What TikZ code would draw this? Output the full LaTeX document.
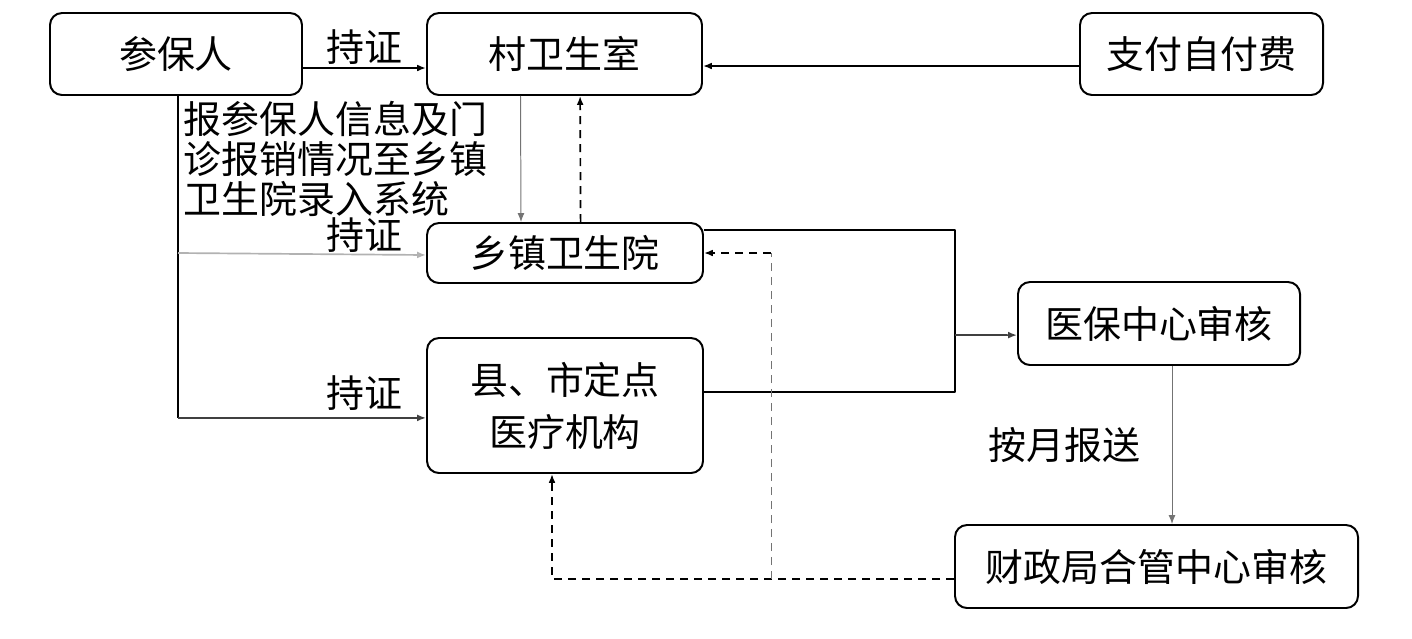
\documentclass[tikz,border=0pt]{standalone}
\usepackage{fontspec}
\newfontfamily\cjk{Noto Sans CJK SC}
\usetikzlibrary{arrows.meta}

\begin{document}
\begin{tikzpicture}[x=.25mm,y=-.25mm,line width=1.2pt,>={Latex[length=2.2mm,width=1.7mm]},
 line join=round,font=\cjk\fontsize{27}{28.5}\selectfont,
 box/.style={draw,rounded corners=3mm,inner sep=0pt,line width=1.4pt},
 thinline/.style={line width=.7pt,black!55},
 dashline/.style={dash pattern=on 2mm off 1.5mm}]
\useasboundingbox (0,0) rectangle (1412,638);
% boxes
\node[box,minimum width=63mm,minimum height=20.5mm] (canbao) at (176,54) {参保人};
\node[box,minimum width=68.75mm,minimum height=20.5mm] (cunwei) at (564.5,54) {村卫生室};
\node[box,minimum width=60.75mm,minimum height=20.5mm] (zifu) at (1201.5,54) {支付自付费};
\node[box,minimum width=69mm,minimum height=15mm] (xiangzhen) at (565,253) {乡镇卫生院};
\node[box,minimum width=69mm,minimum height=33.75mm,align=center] (xianshi) at (565,405.5) {县、市定点\\[3mm]医疗机构};
\node[box,minimum width=70.5mm,minimum height=20.75mm] (yibao) at (1159,323.5) {医保中心审核};
\node[box,minimum width=100.75mm,minimum height=20.75mm] (caizheng) at (1156.5,566.5) {财政局合管中心审核};
\node[anchor=north west,align=left,inner sep=0pt] (info) at (183,100)
  {报参保人信息及门\\诊报销情况至乡镇\\卫生院录入系统};
% helper points
\coordinate (trunk) at ([xshift=.5mm]canbao.south);
\coordinate (merge) at (955,335);
\coordinate (split) at (771,579);
% connectors
\draw[->,line width=1.6pt] ([yshift=-3.5mm]canbao.east) -- ([yshift=-3.5mm]cunwei.west)
  node[midway,above,inner sep=2pt] {持证};
\draw[->] ([yshift=-3mm]zifu.west) -- ([yshift=-3mm]cunwei.east);
\draw[->,thinline] ([xshift=-11mm]cunwei.south) -- ([xshift=-11mm]xiangzhen.north);
\draw[->,dashline] ([xshift=3.9mm]xiangzhen.north) -- ([xshift=3.9mm]cunwei.south);
\draw (trunk) -- (trunk |- 0,418) coordinate (trunkend);
\draw[->,line width=1.2pt,black!30] (trunk |- xiangzhen.west) -- ([yshift=-.5mm]xiangzhen.west)
  node[pos=.75,above,inner sep=1pt,black] {持证};
\draw[->,black!75] (trunkend) -- ([yshift=-3.1mm]xianshi.west)
  node[pos=.75,above,inner sep=5pt,black] {持证};
\draw ([yshift=5.75mm]xiangzhen.east) -| (merge);
\draw ([yshift=3.4mm]xianshi.east) -| (merge);
\draw[->,black!75] (merge) -- ([yshift=-2.9mm]yibao.west);
\draw[->,thinline] ([xshift=3.25mm]yibao.south) -- ([xshift=3.25mm]yibao.south |- caizheng.north)
  node[midway,left=6.5mm,black] {按月报送};
\draw[->,dashline] ([yshift=-3.1mm]caizheng.west) -| ([xshift=-3.25mm]xianshi.south);
\draw[dashline,thinline] (split) -- (split |- xiangzhen.east);
\draw[->,dashline] (split |- xiangzhen.east) -- (xiangzhen.east);
\end{tikzpicture}
\end{document}
